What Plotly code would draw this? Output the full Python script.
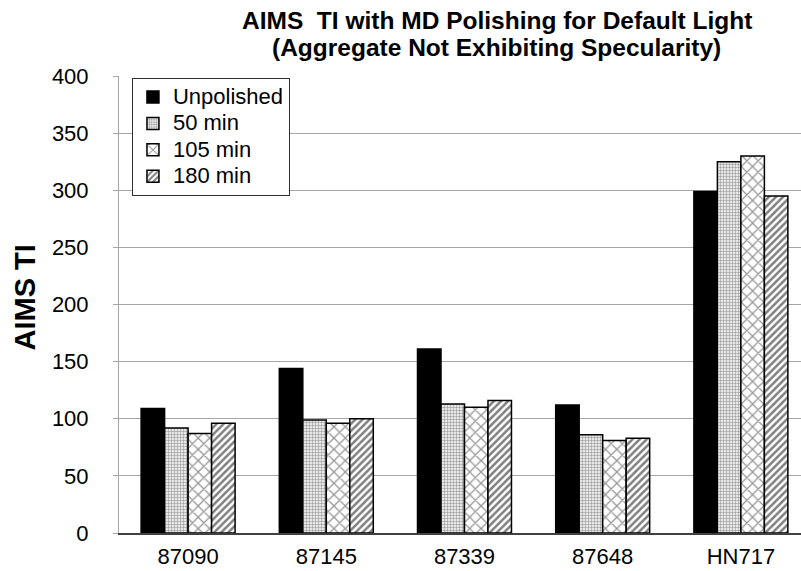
import plotly.graph_objects as go

categories = ["87090", "87145", "87339", "87648", "HN717"]
unpolished = [109, 144, 161, 112, 299]
min_50 = [92, 99, 113, 86, 325]
min_105 = [87, 96, 110, 81, 330]
min_180 = [96, 100, 116, 83, 295]
y_ticks = [0, 50, 100, 150, 200, 250, 300, 350, 400]
series_names = ["Unpolished", "50 min", "105 min", "180 min"]
title_lines = ["AIMS  TI with MD Polishing for Default Light",
               "(Aggregate Not Exhibiting Specularity)"]

FONT = "Liberation Sans, Arial, sans-serif"

markers = [
    dict(color="black"),
    dict(color="white", pattern=dict(shape=".", size=3, solidity=0.5,
                                     fgcolor="#404040", bgcolor="white", fillmode="overlay")),
    dict(color="white", pattern=dict(shape="x", size=8, solidity=0.3,
                                     fgcolor="#303030", bgcolor="white", fillmode="overlay")),
    dict(color="white", pattern=dict(shape="/", size=5, solidity=0.5,
                                     fgcolor="black", bgcolor="white", fillmode="overlay")),
]
values = [unpolished, min_50, min_105, min_180]

fig = go.Figure()
for name, vals, marker in zip(series_names, values, markers):
    marker = dict(marker)
    marker["line"] = dict(color="black", width=1.5)
    fig.add_trace(go.Bar(
        x=categories, y=vals,
        name=f'<span style="font-size:22px">{name}</span>',
        marker=marker,
    ))

# two-line bold title, placed above the plot area
for i, line in enumerate(title_lines):
    fig.add_annotation(
        text=f"<b>{line}</b>", xref="paper", yref="paper",
        x=(497 - 119) / 682, y=1, xanchor="center", yanchor="middle",
        yshift=76 - (20 if i == 0 else 47), showarrow=False,
        font=dict(family=FONT, size=24.5, color="black"),
    )

# rotated y-axis title
fig.add_annotation(
    text="<b>AIMS TI</b>", xref="paper", yref="paper",
    x=0, y=0.5, xanchor="center", yanchor="middle", xshift=-95, yshift=7,
    textangle=-90, showarrow=False,
    font=dict(family=FONT, size=29, color="black"),
)

fig.update_layout(
    width=801, height=571,
    margin=dict(l=119, r=0, t=76, b=38),
    paper_bgcolor="white", plot_bgcolor="white",
    barmode="group", bargap=0.32, bargroupgap=0,
    font=dict(family=FONT, size=22, color="black"),
    showlegend=True,
    legend=dict(
        x=0.019, y=0.996, xanchor="left", yanchor="top",
        bordercolor="#303030", borderwidth=1, bgcolor="white",
        font=dict(family=FONT, size=18, color="black"),
        tracegroupgap=0, itemwidth=30,
    ),
    xaxis=dict(
        range=[-0.5, 4.435], showgrid=False,
        showline=True, linecolor="#404040", linewidth=2,
        ticks="", ticklabelstandoff=3,
        tickfont=dict(family=FONT, size=22),
    ),
    yaxis=dict(
        range=[0, 400], tickvals=y_ticks,
        showgrid=True, gridcolor="#a6a6a6", gridwidth=1,
        showline=True, linecolor="#a6a6a6", linewidth=1,
        ticks="outside", ticklen=5, tickcolor="#a6a6a6",
        ticklabelstandoff=20,
        tickfont=dict(family=FONT, size=22),
        zeroline=False,
    ),
)

fig.write_html("out.html")
